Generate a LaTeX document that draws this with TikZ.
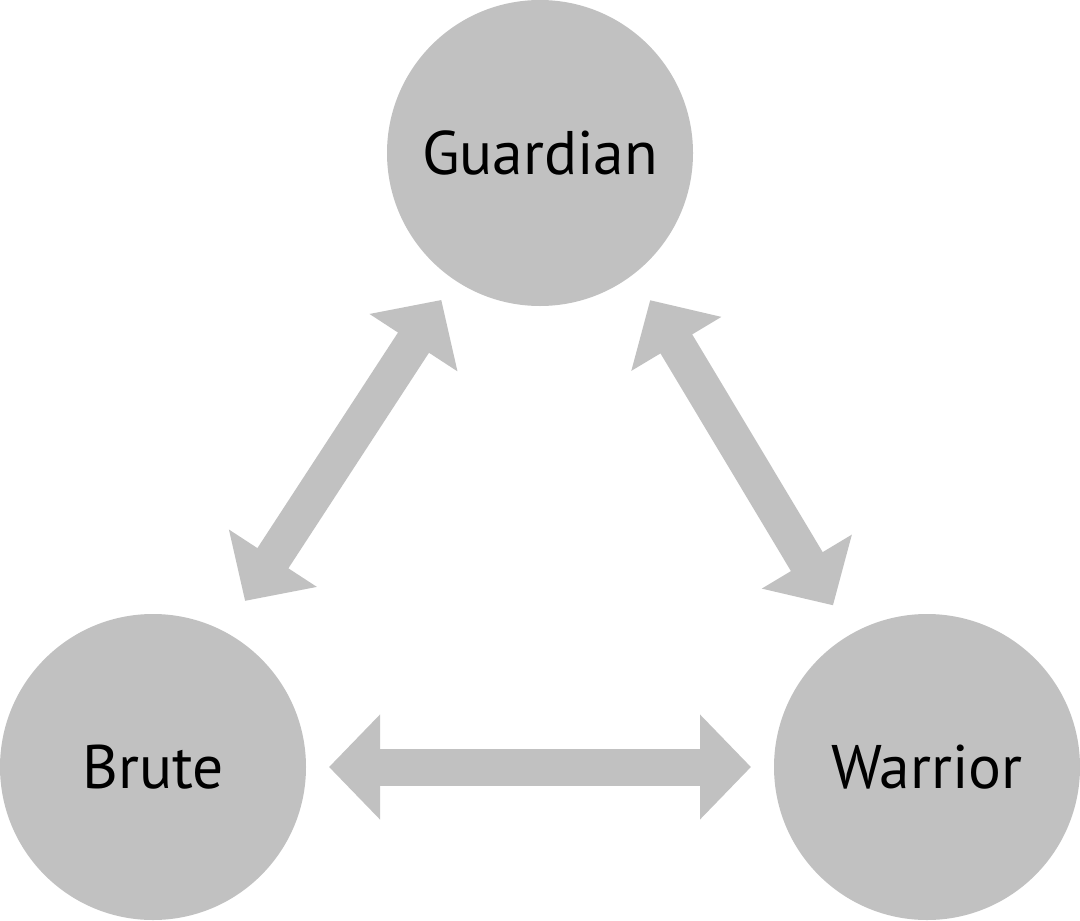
\documentclass[tikz,border=0pt]{standalone}
\usepackage{fontspec}
\setmainfont{PT Sans}
\usetikzlibrary{positioning,arrows.meta,calc}
\definecolor{rolegray}{HTML}{C1C1C1}
\tikzset{role/.style={circle, fill=rolegray, minimum size=3.06cm,
    inner sep=0pt, outer sep=0pt, font=\fontsize{17.5}{21}\selectfont},
  bigarrow/.style={{Triangle[length=0.51cm,width=1.02cm]}-{Triangle[length=0.51cm,width=1.02cm]},
    line width=0.37cm, draw=rolegray}
}

\begin{document}
\begin{tikzpicture}
   \useasboundingbox (0,0) rectangle (10.8,9.2);

   %Guardian node
   \node (guardian) [role] at (5.4,7.67) {Guardian};
   %Brute node
   \node (brute) [role] at (1.53,1.53) {Brute};
   %Warrior node
   \node (warrior) [role] at (9.27,1.53) {Warrior};

\draw [bigarrow, shorten <=0.24cm, shorten >=0.37cm] (guardian.-124.4) -- (brute.62.8);
\draw [bigarrow, shorten <=0.31cm, shorten >=0.34cm] (guardian.-52.9) -- (warrior.120.5);
\draw [bigarrow, shorten <=0.23cm, shorten >=0.23cm] (brute) -- (warrior);

\end{tikzpicture}
\end{document}
